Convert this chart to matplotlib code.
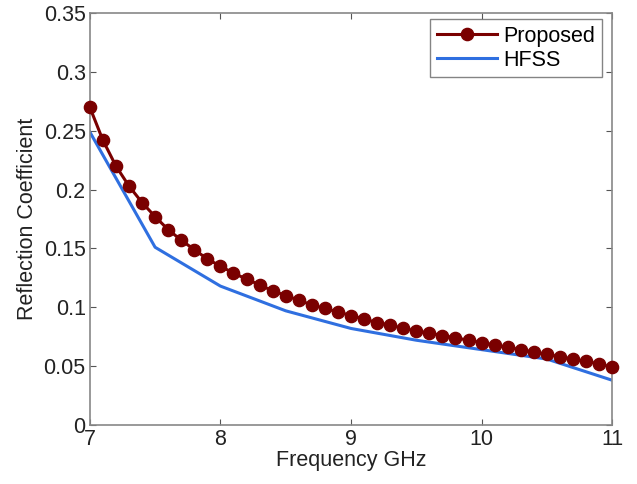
import numpy as np
import matplotlib.pyplot as plt

plt.rcParams['font.family'] = ['Liberation Sans', 'DejaVu Sans']

# Proposed model, sampled every 0.1 GHz
freq_proposed = np.round(np.arange(7.0, 11.01, 0.1), 1)
refl_proposed = [0.270, 0.242, 0.220, 0.203, 0.189, 0.177, 0.166, 0.157, 0.149, 0.141,
                 0.135, 0.129, 0.124, 0.119, 0.114, 0.110, 0.106, 0.102, 0.099, 0.096,
                 0.093, 0.090, 0.087, 0.085, 0.082, 0.080, 0.078, 0.076, 0.074, 0.072,
                 0.070, 0.068, 0.066, 0.064, 0.062, 0.060, 0.058, 0.056, 0.054, 0.052,
                 0.049]

# HFSS simulation, every 0.5 GHz
freq_hfss = [7.0, 7.5, 8.0, 8.5, 9.0, 9.5, 10.0, 10.5, 11.0]
refl_hfss = [0.249, 0.151, 0.118, 0.097, 0.082, 0.072, 0.064, 0.056, 0.038]

fig = plt.figure(figsize=(6.37, 4.84), dpi=100)
ax = fig.add_axes([0.141, 0.122, 0.820, 0.851])

ax.plot(freq_proposed, refl_proposed, color='#7a0000', lw=2.2, marker='o',
        markersize=8.8, label='Proposed', clip_on=False, zorder=3)
ax.plot(freq_hfss, refl_hfss, color='#2f6fe0', lw=2.2, label='HFSS')

ax.set_xlim(7, 11)
ax.set_ylim(0, 0.35)
ax.set_xticks([7, 8, 9, 10, 11])
ax.set_yticks(np.arange(0, 0.351, 0.05))
ax.set_yticklabels(['0', '0.05', '0.1', '0.15', '0.2', '0.25', '0.3', '0.35'])
ax.tick_params(direction='in', labelsize=15.5, colors='#555555', labelcolor='#222222',
               top=True, right=True, length=4, pad=3)
for s in ax.spines.values():
    s.set_color('#888888')
    s.set_linewidth(1.2)

ax.set_xlabel('Frequency GHz', fontsize=15.5, color='#222222', labelpad=0)
ax.set_ylabel('Reflection Coefficient', fontsize=15.5, color='#222222', labelpad=4)

leg = ax.legend(loc='upper right', fontsize=15.5, fancybox=False, handlelength=2.8,
                borderpad=0.3, labelspacing=0.15, handletextpad=0.3, borderaxespad=0.0,
                bbox_to_anchor=(0.98, 0.985))
leg.get_frame().set_edgecolor('#666666')
leg.get_frame().set_linewidth(1.0)

fig.savefig('out.png', dpi=100)
